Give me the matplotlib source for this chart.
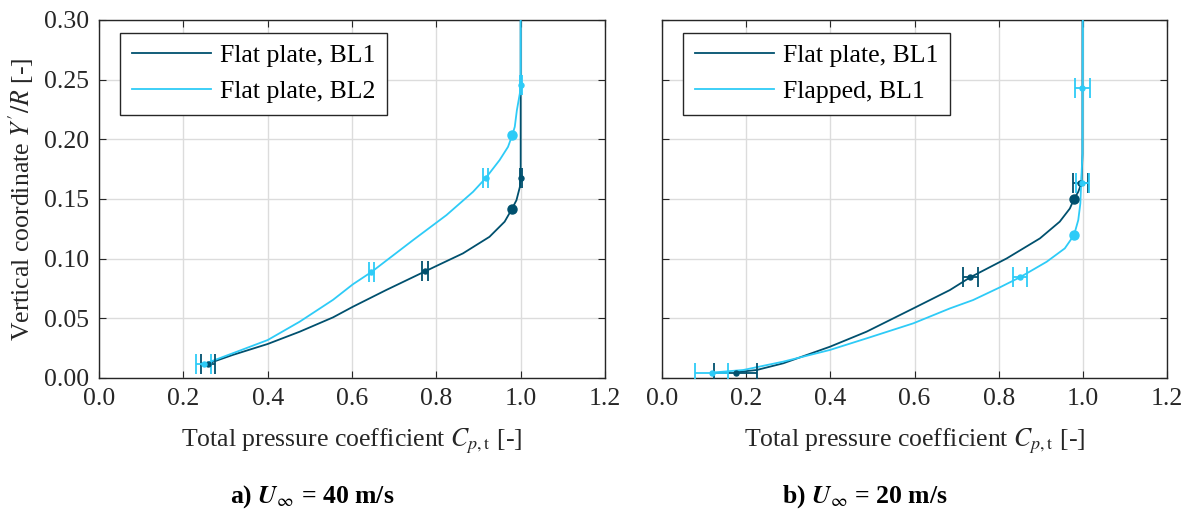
import numpy as np
import matplotlib
matplotlib.use("Agg")
import matplotlib.pyplot as plt

# --- colores ---
DARK = "#00506e"
LIGHT = "#2ecbf7"

# ---------- a) U = 40 m/s ----------
# curvas ajustadas
a_bl1_curve_x = [0.262, 0.317, 0.400, 0.476, 0.555, 0.602, 0.681, 0.773, 0.808, 0.863, 0.926,
                 0.962, 0.979, 0.990, 0.998, 1.000, 1.000, 1.000]
a_bl1_curve_y = [0.0125, 0.0193, 0.0285, 0.0388, 0.0508, 0.0597, 0.0737, 0.0893, 0.0952, 0.1044, 0.1183,
                 0.131, 0.1415, 0.149, 0.160, 0.167, 0.188, 0.30]
a_bl2_curve_x = [0.250, 0.317, 0.400, 0.476, 0.555, 0.602, 0.646, 0.745, 0.824, 0.887, 0.917,
                 0.950, 0.970, 0.980, 0.986, 0.991, 0.998, 1.000, 1.000]
a_bl2_curve_y = [0.0118, 0.0207, 0.0318, 0.0472, 0.0655, 0.0785, 0.0888, 0.1156, 0.1365, 0.156, 0.1675,
                 0.1826, 0.1937, 0.2035, 0.2105, 0.2244, 0.2384, 0.2454, 0.30]
# puntos medidos con barra de error
a_bl1_x = [0.258, 0.773, 1.0]
a_bl1_y = [0.012, 0.0893, 0.1675]
a_bl1_err = [0.017, 0.008, 0.002]
a_bl2_x = [0.248, 0.646, 0.917, 1.0]
a_bl2_y = [0.012, 0.0888, 0.1675, 0.2454]
a_bl2_err = [0.017, 0.006, 0.006, 0.002]
# puntos grandes
a_bl1_dot = (0.980, 0.1415)
a_bl2_dot = (0.980, 0.2035)

# ---------- b) U = 20 m/s ----------
b_flat_curve_x = [0.175, 0.225, 0.288, 0.328, 0.399, 0.486, 0.597, 0.684, 0.732, 0.819, 0.898,
                  0.945, 0.969, 0.979, 0.989, 0.997, 0.999, 0.999]
b_flat_curve_y = [0.0048, 0.0067, 0.0123, 0.0173, 0.0262, 0.0388, 0.0583, 0.0737, 0.0843, 0.1002, 0.117,
                  0.131, 0.142, 0.150, 0.156, 0.1636, 0.188, 0.30]
b_flap_curve_x = [0.118, 0.193, 0.288, 0.399, 0.486, 0.597, 0.684, 0.739, 0.803, 0.850, 0.914,
                  0.957, 0.979, 0.989, 0.994, 0.996, 0.999, 1.000]
b_flap_curve_y = [0.0045, 0.0067, 0.0137, 0.0235, 0.0332, 0.0458, 0.0583, 0.0653, 0.076, 0.0843, 0.0974,
                  0.1086, 0.1198, 0.1323, 0.1463, 0.1636, 0.188, 0.30]
b_flat_x = [0.175, 0.732, 0.994]
b_flat_y = [0.0045, 0.0843, 0.1636]
b_flat_err = [0.051, 0.018, 0.017]
b_flap_x = [0.118, 0.850, 0.999, 0.999]
b_flap_y = [0.0045, 0.0843, 0.1636, 0.2426]
b_flap_err = [0.040, 0.017, 0.015, 0.017]
b_flat_dot = (0.979, 0.150)
b_flap_dot = (0.979, 0.1198)

FS = 18.5
plt.rcParams["font.family"] = ["Liberation Serif", "DejaVu Serif"]
plt.rcParams["mathtext.fontset"] = "stix"
plt.rcParams["font.size"] = FS

fig = plt.figure(figsize=(11.87, 5.14), dpi=100)
ax1 = fig.add_axes([0.0834, 0.2646, 0.4263, 0.6965])
ax2 = fig.add_axes([0.5577, 0.2646, 0.4255, 0.6965])


def draw_series(ax, cx, cy, px, py, perr, dot, color, label):
    ax.plot(cx, cy, color=color, lw=1.3, label=label, zorder=3)
    ax.errorbar(px, py, xerr=perr, fmt="o", color=color, ms=3.6, elinewidth=1.3,
                capsize=7, capthick=1.3, zorder=4)
    ax.plot(*dot, "o", color=color, ms=6.5, zorder=4)


draw_series(ax1, a_bl1_curve_x, a_bl1_curve_y, a_bl1_x, a_bl1_y, a_bl1_err, a_bl1_dot, DARK, "Flat plate, BL1")
draw_series(ax1, a_bl2_curve_x, a_bl2_curve_y, a_bl2_x, a_bl2_y, a_bl2_err, a_bl2_dot, LIGHT, "Flat plate, BL2")
draw_series(ax2, b_flat_curve_x, b_flat_curve_y, b_flat_x, b_flat_y, b_flat_err, b_flat_dot, DARK, "Flat plate, BL1")
draw_series(ax2, b_flap_curve_x, b_flap_curve_y, b_flap_x, b_flap_y, b_flap_err, b_flap_dot, LIGHT, "Flapped, BL1")

for ax in (ax1, ax2):
    ax.set_xlim(0, 1.2)
    ax.set_ylim(0, 0.30)
    ax.set_xticks(np.arange(0, 1.21, 0.2))
    ax.set_yticks(np.arange(0, 0.301, 0.05))
    ax.set_xticklabels([f"{v:.1f}" for v in np.arange(0, 1.21, 0.2)])
    ax.grid(True, color="#dcdcdc", lw=1.0)
    ax.set_axisbelow(True)
    ax.tick_params(direction="in", top=True, right=True, length=5, color="#262626",
                   labelsize=FS, pad=7, labelcolor="#262626")
    for s in ax.spines.values():
        s.set_color("#262626")
        s.set_linewidth(1.0)
    ax.set_xlabel(r"Total pressure coefficient $C_{p,\mathrm{t}}$ [-]", fontsize=FS, labelpad=12,
                  color="#262626")
    leg = ax.legend(loc="upper left", fontsize=FS, handlelength=3.1, handletextpad=0.35,
                    frameon=True, fancybox=False, edgecolor="#262626", framealpha=1,
                    borderpad=0.45, labelspacing=0.5,
                    bbox_to_anchor=(0.0415, 0.964), borderaxespad=0)
    leg.get_frame().set_linewidth(1.0)

ax1.set_yticklabels([f"{v:.2f}" for v in np.arange(0, 0.301, 0.05)])
ax2.set_yticklabels([])
ax1.set_ylabel(r"Vertical coordinate $Y'/R$ [-]", fontsize=FS, labelpad=6, color="#262626")

fig.text(0.263, 0.033, r"a) $\mathbfit{U}_{\infty}$ = 40 m/s", ha="center", va="center",
         fontsize=FS, fontweight="bold")
fig.text(0.729, 0.033, r"b) $\mathbfit{U}_{\infty}$ = 20 m/s", ha="center", va="center",
         fontsize=FS, fontweight="bold")

fig.savefig("out.png", dpi=100)
